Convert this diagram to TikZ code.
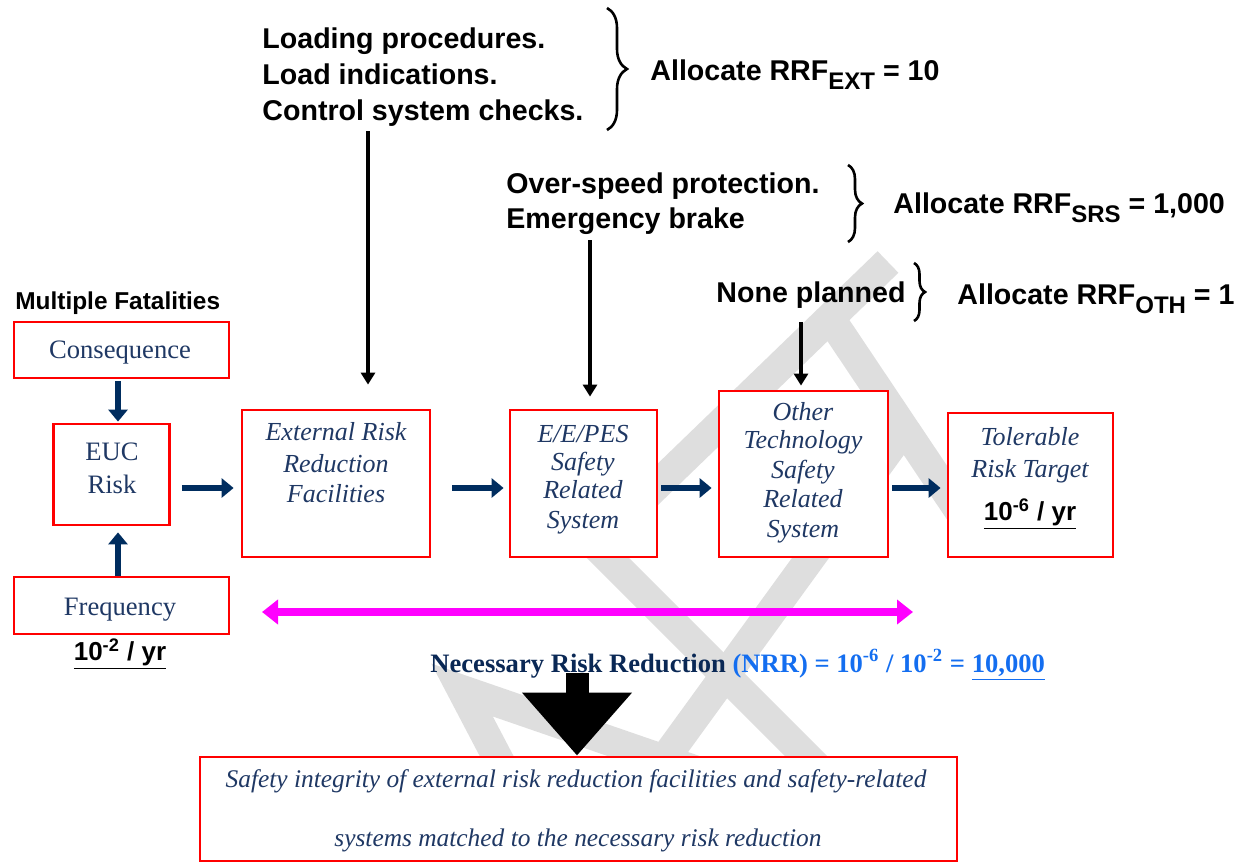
\documentclass[tikz,border=0pt]{standalone}
\usepackage{fontspec}
\setmainfont{Liberation Serif}
\newfontfamily\arialf{Liberation Sans}
\usetikzlibrary{arrows.meta,decorations.pathreplacing}
\definecolor{navy}{RGB}{31,56,100}
\definecolor{arrownavy}{RGB}{0,45,95}
\definecolor{nrrnavy}{RGB}{10,40,85}
\definecolor{boxred}{RGB}{255,0,0}
\definecolor{wm}{RGB}{222,222,222}
\definecolor{nrrblue}{RGB}{20,110,240}
\definecolor{mag}{RGB}{255,0,255}
\newcommand{\mysub}[1]{\raisebox{-4.5pt}{\fontsize{12}{12}\selectfont #1}}
\tikzset{
  rbox/.style={draw=boxred, line width=1.4pt, fill=white, inner sep=0pt},
  btxt/.style={font=\fontsize{13}{15}\selectfont\itshape, text=navy, anchor=base, inner sep=0pt},
  utxt/.style={font=\fontsize{13.3}{15}\selectfont, text=navy, anchor=base, inner sep=0pt},
  stxt/.style={font=\arialf\bfseries\fontsize{14.3}{18}\selectfont, anchor=base west, inner sep=0pt},
  vtxt/.style={font=\arialf\bfseries\fontsize{13}{15}\selectfont, anchor=base, inner sep=0pt},
  bottxt/.style={font=\fontsize{12.7}{15}\selectfont\itshape, text=navy, anchor=base, inner sep=0pt},
  narrow/.style={draw=arrownavy, line width=3.2pt, -{Triangle[width=9.5pt,length=6pt]}},
  karrow/.style={draw=black, line width=1.6pt, -{Triangle[width=7pt,length=6pt]}},
  magarrow/.style={draw=mag, line width=4pt, {Triangle[width=12pt,length=8pt]}-{Triangle[width=12pt,length=8pt]}},
  bigarrow/.style={draw=black, line width=11.5pt, -{Triangle[width=53pt,length=31.5pt]}},
  wmband/.style={draw=wm, line width=15pt, line join=miter, line cap=butt},
  bracebig/.style={draw=black, line width=1.3pt, decorate, decoration={brace, amplitude=#1}},
}
\begin{document}
\begin{tikzpicture}[x=0.5pt,y=-0.5pt]
\useasboundingbox (0,0) rectangle (1254,862);

% watermark
\draw[wmband] (888,262) -- (595,545) -- (822,772);
\draw[wmband] (830,318) -- (962,515);
\draw[wmband] (902,432) -- (655,772);
\draw[wmband] (505,772) -- (462,690) -- (700,772);

% boxes
\node[rbox, minimum width=107.5pt, minimum height=28pt] (cons) at (121.5,350) {};
\node[rbox, minimum width=58pt, minimum height=50.5pt] (euc) at (111.5,474.5) {};
\node[rbox, minimum width=107.5pt, minimum height=28.5pt] (freq) at (121.5,605.5) {};
\node[rbox, minimum width=94pt, minimum height=73.5pt] (ext) at (336,483.5) {};
\node[rbox, minimum width=73.5pt, minimum height=73.5pt] (ee) at (583.5,483.5) {};
\node[rbox, minimum width=84.5pt, minimum height=83pt] (oth) at (803.5,474) {};
\node[rbox, minimum width=82.5pt, minimum height=72pt] (tol) at (1030.5,485) {};
\node[rbox, minimum width=378.5pt, minimum height=52pt] (bot) at (578.5,809) {};

% left column texts
\node[font=\arialf\bfseries\fontsize{12.2}{14}\selectfont, anchor=base west, inner sep=0pt] (mf) at (15,309) {Multiple Fatalities};
\node[utxt] (consT) at (120,358) {Consequence};
\node[utxt] (eucT1) at (112,460) {EUC};
\node[utxt] (eucT2) at (112,493) {Risk};
\node[utxt] (freqT) at (120,615) {Frequency};
\node[vtxt] (freqV) at (120,660) {\underline{10\textsuperscript{-2} / yr}};

% box texts
\node[btxt] (ext1) at (336,440) {External Risk};
\node[btxt] (ext2) at (336,472) {Reduction};
\node[btxt] (ext3) at (336,502) {Facilities};
\node[btxt] (ee1) at (583,442) {E/E/PES};
\node[btxt] (ee2) at (583,470) {Safety};
\node[btxt] (ee3) at (583,498) {Related};
\node[btxt] (ee4) at (583,528) {System};
\node[btxt] (oth1) at (803,420) {Other};
\node[btxt] (oth2) at (803,448) {Technology};
\node[btxt] (oth3) at (803,478) {Safety};
\node[btxt] (oth4) at (803,507) {Related};
\node[btxt] (oth5) at (803,537) {System};
\node[btxt] (tol1) at (1030,445) {Tolerable};
\node[btxt] (tol2) at (1030,477) {Risk Target};
\node[vtxt] (tol3) at (1030,520) {\underline{10\textsuperscript{-6} / yr}};

% top text blocks
\node[stxt] (l1) at (262,48) {Loading procedures.};
\node[stxt] (l2) at (262,84) {Load indications.};
\node[stxt] (l3) at (262,120) {Control system checks.};
\node[stxt] (a1) at (650,80) {Allocate RRF\mysub{EXT} = 10};
\node[stxt] (l4) at (506,193) {Over-speed protection.};
\node[stxt] (l5) at (506,228) {Emergency brake};
\node[stxt] (a2) at (893,213) {Allocate RRF\mysub{SRS} = 1,000};
\node[stxt] (l6) at (716,302) {None planned};
\node[stxt] (a3) at (957,304) {Allocate RRF\mysub{OTH} = 1};

% braces
\draw[bracebig=10pt] (607,8) -- (607,130);
\draw[bracebig=7pt] (848,165) -- (848,242);
\draw[bracebig=5.5pt] (914,263) -- (914,321);

% black arrows from measures to boxes
\coordinate (s1) at (368,131);
\coordinate (s2) at (590,240);
\coordinate (s3) at (801,322);
\draw[karrow, shorten >=12pt] (s1) -- (ext.north -| s1);
\draw[karrow, shorten >=6pt] (s2) -- (ee.north -| s2);
\draw[karrow, shorten >=2pt] (s3) -- (oth.north -| s3);

% navy flow arrows
\draw[narrow, shorten <=1pt, shorten >=0.5pt] (cons.south -| 118,0) -- (euc.north -| 118,0);
\draw[narrow, shorten >=3pt] (freq.north -| 118,0) -- (euc.south -| 118,0);
\draw[narrow, shorten <=5.5pt, shorten >=3.5pt] (euc.east |- 0,488) -- (ext.west |- 0,488);
\draw[narrow, shorten <=10.5pt, shorten >=2.5pt] (ext.east |- 0,488) -- (ee.west |- 0,488);
\draw[narrow, shorten <=1.5pt, shorten >=3pt] (ee.east |- 0,488) -- (oth.west |- 0,488);
\draw[narrow, shorten <=1.5pt, shorten >=3pt] (oth.east |- 0,488) -- (tol.west |- 0,488);

% magenta NRR span
\coordinate (m1) at (262,612);
\coordinate (m2) at (913,612);
\draw[magarrow] (m1) -- (m2);

% NRR formula
\node[anchor=base west, inner sep=0pt, font=\bfseries\fontsize{13.3}{15}\selectfont] (nrr) at (430,672)
  {\textcolor{nrrnavy}{Necessary Risk Reduction} \textcolor{nrrblue}{(NRR) = 10\textsuperscript{-6} / 10\textsuperscript{-2} = \underline{10,000}}};

% big arrow
\coordinate (ba) at (577,673);
\draw[bigarrow] (ba) -- (bot.north -| ba);

% bottom text
\node[bottxt] (bt1) at (576,787) {Safety integrity of external risk reduction facilities and safety-related};
\node[bottxt] (bt2) at (578,846) {systems matched to the necessary risk reduction};
\end{tikzpicture}
\end{document}
